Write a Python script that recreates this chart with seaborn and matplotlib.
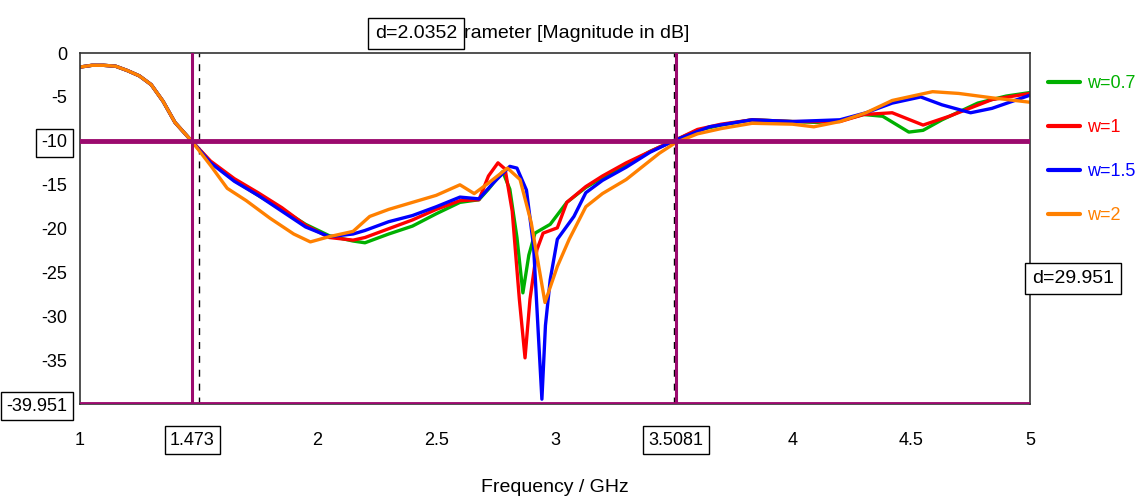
import numpy as np
import pandas as pd
import matplotlib
matplotlib.use("Agg")
import matplotlib.pyplot as plt
import seaborn as sns

# S11 curves (frequency in GHz, magnitude in dB)
f_common = [1.0, 1.05, 1.1, 1.15, 1.2, 1.25, 1.3, 1.35, 1.4, 1.473]
s_common = [-1.6, -1.4, -1.4, -1.5, -2.0, -2.6, -3.6, -5.5, -7.9, -10.1]

f_w07 = [1.55, 1.65, 1.75, 1.85, 1.95, 2.05, 2.15, 2.2, 2.3, 2.4, 2.5, 2.6, 2.68, 2.72, 2.78,
         2.81, 2.84, 2.865, 2.89, 2.916, 2.98, 3.05, 3.13, 3.2, 3.3, 3.4, 3.5081, 3.6, 3.7,
         3.83, 4.0, 4.1, 4.2, 4.3, 4.38, 4.49, 4.55, 4.63, 4.78, 4.9, 5.0]
s_w07 = [-12.4, -14.5, -16.2, -17.8, -19.5, -20.8, -21.4, -21.6, -20.6, -19.7, -18.3, -17.0,
         -16.7, -15.5, -13.5, -15.5, -21.0, -27.3, -23.0, -20.5, -19.5, -17.0, -15.3, -14.2,
         -12.8, -11.2, -9.9, -8.8, -8.2, -7.6, -7.8, -7.9, -7.7, -7.0, -7.2, -9.0, -8.8, -7.6,
         -5.7, -4.9, -4.5]

f_w1 = [1.55, 1.65, 1.75, 1.85, 1.95, 2.05, 2.15, 2.2, 2.3, 2.4, 2.5, 2.6, 2.68, 2.72, 2.76,
        2.79, 2.82, 2.85, 2.874, 2.895, 2.924, 2.95, 3.01, 3.05, 3.13, 3.2, 3.3, 3.44, 3.5081,
        3.6, 3.7, 3.83, 4.0, 4.2, 4.3, 4.42, 4.55, 4.66, 4.84, 5.0]
s_w1 = [-12.3, -14.3, -15.9, -17.6, -19.6, -21.0, -21.3, -21.0, -20.0, -19.0, -17.8, -16.8,
        -16.7, -14.0, -12.5, -13.2, -18.0, -28.0, -34.7, -28.0, -22.4, -20.5, -19.9, -17.0,
        -15.2, -14.0, -12.5, -10.7, -9.9, -8.7, -8.1, -7.6, -7.8, -7.8, -7.0, -6.8, -8.2,
        -7.2, -5.3, -4.6]

f_w15 = [1.55, 1.65, 1.75, 1.85, 1.95, 2.05, 2.15, 2.2, 2.3, 2.4, 2.5, 2.6, 2.68, 2.74, 2.81,
         2.84, 2.88, 2.91, 2.93, 2.945, 2.96, 2.98, 3.01, 3.08, 3.13, 3.2, 3.3, 3.4, 3.5081,
         3.65, 3.83, 4.0, 4.2, 4.31, 4.42, 4.54, 4.63, 4.75, 4.84, 5.0]
s_w15 = [-12.5, -14.6, -16.2, -18.0, -19.8, -20.9, -20.6, -20.2, -19.2, -18.5, -17.5, -16.4,
         -16.6, -14.8, -12.9, -13.1, -15.6, -22.0, -32.0, -39.4, -31.0, -25.8, -21.2, -18.6,
         -15.9, -14.5, -13.0, -11.3, -9.9, -8.4, -7.6, -7.8, -7.6, -6.8, -5.7, -5.0, -5.9,
         -6.8, -6.3, -4.8]

f_w2 = [1.55, 1.62, 1.7, 1.8, 1.9, 1.97, 2.05, 2.15, 2.22, 2.3, 2.4, 2.5, 2.6, 2.66, 2.72,
        2.8, 2.853, 2.9, 2.958, 3.01, 3.06, 3.13, 3.2, 3.3, 3.44, 3.5081, 3.6, 3.7, 3.83,
        4.0, 4.09, 4.2, 4.31, 4.42, 4.59, 4.7, 4.84, 5.0]
s_w2 = [-12.8, -15.4, -16.8, -18.8, -20.6, -21.5, -20.9, -20.3, -18.6, -17.8, -17.0, -16.2,
        -15.0, -16.0, -14.8, -13.1, -14.4, -19.3, -28.4, -24.3, -21.2, -17.5, -16.0, -14.4,
        -11.4, -10.2, -9.2, -8.6, -8.0, -8.1, -8.4, -7.8, -6.8, -5.4, -4.4, -4.6, -5.1, -5.6]

labels = ["w=0.7", "w=1", "w=1.5", "w=2"]
colors = ["#00b000", "#ff0000", "#0000ff", "#ff8000"]

# marker readouts
mark_x = [1.473, 3.5081]
mark_y = [-10, -39.951]

frames = []
for lab, f, s in zip(labels, [f_w07, f_w1, f_w15, f_w2], [s_w07, s_w1, s_w15, s_w2]):
    frames.append(pd.DataFrame({"freq": f_common + f, "s11": s_common + s, "series": lab}))
df = pd.concat(frames, ignore_index=True)

sns.set_style("white")
plt.rcParams["font.family"] = ["Liberation Sans", "DejaVu Sans"]
plt.rcParams["text.color"] = "black"
plt.rcParams["axes.labelcolor"] = "black"
plt.rcParams["xtick.color"] = "black"
plt.rcParams["ytick.color"] = "black"

FS = 13

fig = plt.figure(figsize=(11.44, 5.04), dpi=100)
ax = fig.add_axes([0.0699, 0.1984, 0.8304, 0.6964])

sns.lineplot(data=df, x="freq", y="s11", hue="series", hue_order=labels,
             palette=dict(zip(labels, colors)), estimator=None, sort=False,
             linewidth=2.4, ax=ax)

ax.set_xlim(1, 5)
ax.set_ylim(mark_y[1], 0)

# grid
ax.set_xticks(np.arange(1.5, 5, 0.5), minor=True)
ax.set_yticks(np.arange(-35, 0, 5), minor=True)
ax.grid(which="minor", axis="x", color="black", linestyle=(0, (5, 5)), linewidth=1)
ax.grid(which="minor", axis="y", color="black", linestyle=(0, (2, 3)), linewidth=1.3)
ax.tick_params(which="minor", length=0)

# marker lines
for mx in mark_x:
    ax.axvline(mx, color="#9b0a6e", linewidth=2.2, zorder=5)
for my in mark_y:
    ax.axhline(my, color="#9b0a6e", linewidth=3.5, zorder=5)

xt = [1, mark_x[0], 2, 2.5, 3, mark_x[1], 4, 4.5, 5]
xl = ["1", "1.473", "2", "2.5", "3", "3.5081", "4", "4.5", "5"]
ax.set_xticks(xt)
ax.set_xticklabels(xl)
yt = [0, -5, -10, -15, -20, -25, -30, -35, mark_y[1]]
yl = ["0", "-5", "-10", "-15", "-20", "-25", "-30", "-35", "-39.951"]
ax.set_yticks(yt)
ax.set_yticklabels(yl)
ax.tick_params(axis="x", which="major", direction="out", length=7, width=1, pad=13,
               labelsize=FS)
ax.tick_params(axis="y", which="major", direction="inout", length=8, width=1, pad=5,
               labelsize=FS)

box = dict(boxstyle="square,pad=0.3", facecolor="white", edgecolor="black", linewidth=1)
for t in ax.get_xticklabels():
    if t.get_text() in ("1.473", "3.5081"):
        t.set_bbox(box)
for t in ax.get_yticklabels():
    if t.get_text() in ("-10", "-39.951"):
        t.set_bbox(box)

for side in ["left", "bottom", "top", "right"]:
    ax.spines[side].set_visible(True)
    ax.spines[side].set_color("#333333")
    ax.spines[side].set_linewidth(1.2)

ax.set_xlabel("Frequency / GHz", fontsize=FS + 1, labelpad=22)
ax.set_ylabel("")

# title partly hidden behind the marker distance box
fig.text(464 / 1144, 0.934, "rameter [Magnitude in dB]", fontsize=FS + 1, ha="left",
         va="center")
fig.text(457 / 1144, 0.934, "d=2.0352", fontsize=FS + 1, ha="right", va="center",
         bbox=dict(boxstyle="square,pad=0.35", facecolor="white", edgecolor="black"))
fig.text(1073 / 1144, 0.448, "d=29.951", fontsize=FS + 1, ha="center", va="center",
         bbox=dict(boxstyle="square,pad=0.35", facecolor="white", edgecolor="black"))

leg = ax.legend(loc="upper left", bbox_to_anchor=(1044 / 1144, 0.858),
                bbox_transform=fig.transFigure, frameon=False, fontsize=FS,
                handlelength=1.8, handletextpad=0.4, labelspacing=1.5,
                labelcolor="linecolor", borderaxespad=0, borderpad=0.2)
for ln in leg.get_lines():
    ln.set_linewidth(3)

fig.savefig("out.png", dpi=100, facecolor="white")
